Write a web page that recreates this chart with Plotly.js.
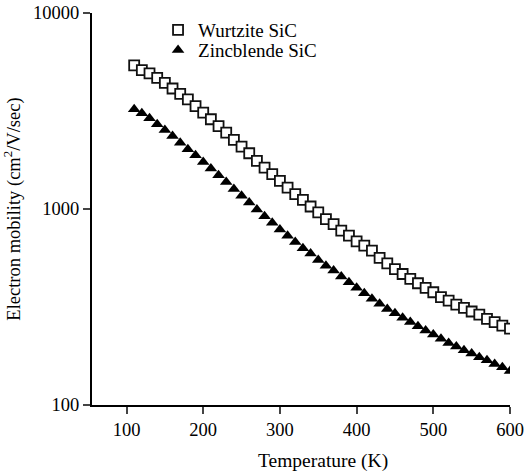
<!DOCTYPE html>
<html>
<head>
<meta charset="utf-8">
<script src="https://cdn.plot.ly/plotly-3.0.1.min.js"></script>
<style>html,body{margin:0;padding:0;background:#fff;}#chart{width:525px;height:476px;}</style>
</head>
<body>
<div id="chart"></div>
<script>
// Temperature (K)
const temperature = [110,120,130,140,150,160,170,180,190,200,210,220,230,240,250,260,270,280,290,300,
  310,320,330,340,350,360,370,380,390,400,410,420,430,440,450,460,470,480,490,500,
  510,520,530,540,550,560,570,580,590,600];
// Electron mobility, Wurtzite SiC (cm^2/V/sec)
const wurtzite = [5400,5110,4920,4670,4400,4120,3870,3625,3350,3100,2870,2650,2450,2250,2080,1925,1760,1625,1505,1390,
  1286,1191,1114,1030,960,888,838,775,731,683,650,613,563,528,494,466,440,418,396,376,
  355,341,325,313,300,289,275,265,254,245];
// Electron mobility, Zincblende SiC (cm^2/V/sec)
const zincblende = [3225,3076,2902,2704,2530,2358,2180,2017,1881,1739,1607,1488,1375,1263,1168,1079,994,918,851,787,
  731,679,630,592,550,514,485,452,423,396,372,348,329,309,294,279,265,252,240,229,
  218,207,199,190,183,175,169,162,156,149];
const seriesNames = ["Wurtzite SiC", "Zincblende SiC"];
const xTicks = [100,200,300,400,500,600];
const yTicks = [100,1000,10000];
const yTickText = ["100","1000","10000"];
const xTitle = "Temperature (K)";
const yTitle = "Electron mobility (cm<sup>2</sup>/V/sec)";

const font = "Liberation Serif";
const traces = [
  {x: temperature, y: wurtzite, name: seriesNames[0], type: "scatter", mode: "markers", legend: "legend",
   marker: {symbol: "square", size: 10, color: "#ffffff", line: {color: "#111", width: 1.8}}},
  {x: temperature, y: zincblende, name: seriesNames[1], type: "scatter", mode: "markers", legend: "legend2",
   marker: {symbol: "triangle-up", size: 11, color: "#000", line: {width: 0}}}
];
function legendAt(y) {
  return {x: 0.158, y: y, xanchor: "left", yanchor: "middle", bgcolor: "rgba(0,0,0,0)",
    borderwidth: 0, font: {family: font, size: 19, color: "#000"}};
}
const layout = {
  width: 525, height: 476,
  margin: {l: 92, r: 15, t: 12, b: 71},
  paper_bgcolor: "#fff", plot_bgcolor: "#fff",
  font: {family: font, size: 18.5, color: "#000"},
  showlegend: true,
  legend: legendAt(0.954),
  legend2: legendAt(0.903),
  xaxis: {range: [55, 600], tickvals: xTicks, ticks: "outside", ticklen: 7, tickwidth: 2,
          showline: true, linewidth: 2, linecolor: "#000", showgrid: false, zeroline: false,
          tickfont: {family: font, size: 18.5, color: "#000"}},
  yaxis: {type: "log", range: [2, 4], tickvals: yTicks, ticktext: yTickText, ticks: "outside",
          ticklen: 7, tickwidth: 2, showline: true, linewidth: 2, linecolor: "#000",
          showgrid: false, zeroline: false, tickfont: {family: font, size: 18.5, color: "#000"},
          title: {text: yTitle, font: {family: font, size: 18.5, color: "#000"}, standoff: 8}},
  annotations: [{text: xTitle, xref: "paper", yref: "paper", x: 0.553, y: -0.1425,
                 xanchor: "center", yanchor: "middle", showarrow: false,
                 font: {family: font, size: 19.5, color: "#000"}}]
};
Plotly.newPlot("chart", traces, layout, {displayModeBar: false, staticPlot: true});
</script>
</body>
</html>
